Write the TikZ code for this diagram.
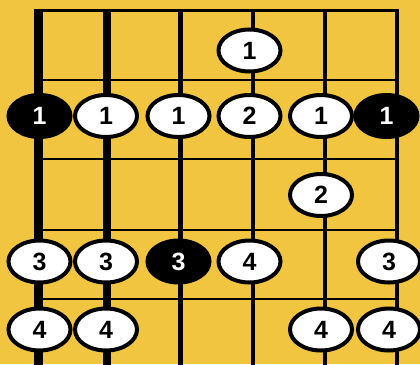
\documentclass[tikz,border=0pt]{standalone}
\usepackage{fontspec}
\setmainfont{Liberation Sans}
\usepackage{xcolor}
\usetikzlibrary{shapes.geometric}
\definecolor{board}{HTML}{F1C53F}

\begin{document}
\begin{tikzpicture}[x=1pt, y=-1pt,
  finger/.style={ellipse, draw=black, line width=4pt, fill=white, minimum width=62pt, minimum height=42pt, inner sep=0pt, font=\bfseries\fontsize{25}{25}\selectfont},
  root/.style={finger, fill=black, text=white},
  fret/.style={line width=2.5pt}
]
\fill[board] (0,0) rectangle (420,364);
\useasboundingbox (0,0) rectangle (420,364);
% strings, thick to thin
\foreach \x/\w in {38.5/8.3, 107/7.3, 180.5/5.2, 253/4.3, 325/4, 397/3.3}
  \draw[line width=\w pt] (\x,9) -- (\x,370);
% nut and frets
\draw[line width=3pt] (34.3,10.5) -- (398.6,10.5);
\foreach \y in {80,159,230,299}
  \draw[fret] (38.5,\y) -- (397,\y);
% fingers
\node[finger] (r1s4) at (249.5,50.5) {1};
\node[root]   (r2s1) at (39.5,116) {1};
\node[finger] (r2s2) at (106,116) {1};
\node[finger] (r2s3) at (178.5,116) {1};
\node[finger] (r2s4) at (249.5,116) {2};
\node[finger] (r2s5) at (321,116) {1};
\node[root]   (r2s6) at (386.5,116) {1};
\node[finger] (r3s5) at (321,195) {2};
\node[finger] (r4s1) at (39.5,261.5) {3};
\node[finger] (r4s2) at (106,261.5) {3};
\node[root]   (r4s3) at (178.5,261.5) {3};
\node[finger] (r4s4) at (249.5,261.5) {4};
\node[finger] (r4s6) at (389,261.5) {3};
\node[finger] (r5s1) at (39.5,329.5) {4};
\node[finger] (r5s2) at (106,329.5) {4};
\node[finger] (r5s5) at (321,329.5) {4};
\node[finger] (r5s6) at (389,329.5) {4};
\end{tikzpicture}
\end{document}
